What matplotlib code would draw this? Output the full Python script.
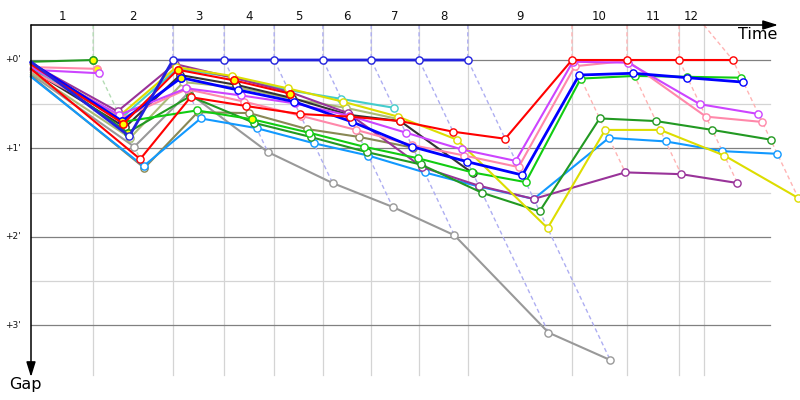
import matplotlib
matplotlib.use("Agg")
import matplotlib.pyplot as plt

# ---------------- data (times and gaps in minutes) ----------------
lap_numbers = [1, 2, 3, 4, 5, 6, 7, 8, 9, 10, 11, 12]
leader_times = [1.48, 3.38, 4.60, 5.79, 6.95, 8.10, 9.24, 10.40, 12.88, 14.19, 15.43, 16.71]
time_limit = 16.02
lap_grid = leader_times[:11] + [time_limit]
leader_dash_colors = ["#b4dcb4"] + ["#aeaef2"] * 7 + ["#ffb4b4"] * 4

gap_ticks = [0, 1, 2, 3]
gap_tick_labels = ["+0'", "+1'", "+2'", "+3'"]
gap_minor = [0.5, 1.5, 2.5]

# gaps per lap, index 0 = start
gap_green_ret = [0.02, 0.00]
gap_pink_ret = [0.08, 0.10]
gap_magenta_ret = [0.11, 0.15]
gap_grey = [0.16, 0.98, 0.37, 1.04, 1.39, 1.66, 1.98, 3.08, 3.39]
gap_olive = [0.18, 1.22, 0.59, 0.60, 0.78, 0.87, 0.99]
gap_lightolive = [0.14, 0.88, 0.25, 0.31, 0.44, 0.54, 0.67]
gap_cyan = [0.09, 0.66, 0.10, 0.19, 0.34, 0.44, 0.54]
gap_black = [0.11, 0.76, 0.17, 0.28, 0.43, 0.62, 0.69, 1.28]
gap_purple = [0.04, 0.58, 0.045, 0.20, 0.36, 0.60, 1.21, 1.42, 1.57, 1.27, 1.29, 1.39]
gap_lightblue = [0.19, 1.20, 0.66, 0.77, 0.94, 1.08, 1.27, 1.43, 1.57, 0.88, 0.92, 1.03, 1.06]
gap_darkgreen = [0.03, 0.82, 0.41, 0.71, 0.87, 1.04, 1.18, 1.50, 1.71, 0.66, 0.69, 0.79, 0.90]
gap_lime = [0.05, 0.70, 0.57, 0.67, 0.82, 0.98, 1.11, 1.27, 1.38, 0.21, 0.18, 0.19, 0.20]
gap_yellow = [0.06, 0.63, 0.08, 0.18, 0.32, 0.47, 0.64, 0.90, 1.90, 0.79, 0.79, 1.08, 1.56]
gap_pink = [0.12, 0.66, 0.33, 0.47, 0.63, 0.79, 0.96, 1.08, 1.21, 0.07, 0.01, 0.64, 0.70]
gap_magenta = [0.08, 0.62, 0.32, 0.40, 0.49, 0.63, 0.82, 1.01, 1.14, 0.02, 0.03, 0.50, 0.61]
gap_bluebright = [0.03, 0.69, 0.20, 0.34, 0.47, 0.70, 0.98, 1.15, 1.30, 0.17, 0.15, 0.20, 0.25]
gap_redA = [0.05, 0.72, 0.11, 0.23, 0.38]
gap_redB = [0.10, 1.12, 0.42, 0.52, 0.61, 0.64, 0.69, 0.81, 0.89, 0.00, 0.00, 0.00, 0.00]
gap_bluetop = [0.02, 0.86, 0.00, 0.00, 0.00, 0.00, 0.00, 0.00, 0.00]

# (gaps, colour, line width, laps drawn with yellow marker fill)
series = [
    (gap_green_ret, "#229922", 1.5, [1]),
    (gap_pink_ret, "#ff88aa", 1.5, [1]),
    (gap_magenta_ret, "#cc44ff", 1.5, []),
    (gap_grey, "#999999", 1.5, []),
    (gap_olive, "#888855", 1.5, []),
    (gap_lightolive, "#aabb77", 1.5, []),
    (gap_cyan, "#44cccc", 1.5, []),
    (gap_black, "#333333", 1.5, []),
    (gap_lightblue, "#1199ff", 1.5, []),
    (gap_purple, "#993399", 1.5, []),
    (gap_darkgreen, "#229922", 1.5, [1, 2]),
    (gap_lime, "#11cc11", 1.5, [1, 3]),
    (gap_yellow, "#dddd00", 1.5, []),
    (gap_pink, "#ff88aa", 1.5, []),
    (gap_magenta, "#cc44ff", 1.5, []),
    (gap_bluebright, "#0000ff", 2.0, [1, 2]),
    (gap_redA, "#ff0000", 1.5, [1, 2, 3, 4]),
    (gap_redB, "#ff0000", 1.5, []),
    (gap_bluetop, "#2222dd", 2.0, []),
]

# ---------------- drawing ----------------
PX_X = 42.0   # pixels per minute (time)
PX_Y = 88.5   # pixels per minute (gap)

fig = plt.figure(figsize=(8, 4), dpi=100)
ax = fig.add_axes([0, 0, 1, 1])
ax.set_xlim(-31 / PX_X, 769 / PX_X)
ax.set_ylim(340 / PX_Y, -60 / PX_Y)
ax.axis("off")

top = -35 / PX_Y
grid_bottom = 315 / PX_Y
grid_right = 739 / PX_X

for g in gap_minor:
    ax.plot([0, grid_right], [g, g], color="#d4d4d4", lw=0.9, zorder=1)
for g in gap_ticks:
    ax.plot([0, grid_right], [g, g], color="#808080", lw=0.9, zorder=1.2)
for t in lap_grid:
    ax.plot([t, t], [top, grid_bottom], color="#d4d4d4", lw=0.9, zorder=1.1)

# lap labels
bounds = [0] + lap_grid
for i, n in enumerate(lap_numbers):
    ax.text((bounds[i] + bounds[i + 1]) / 2, -43 / PX_Y, str(n), ha="center",
            va="center", fontsize=8.5, color="#111111")

# gap labels
for g, lab in zip(gap_ticks, gap_tick_labels):
    ax.text(-10 / PX_X, g, lab, ha="right", va="center", fontsize=6.5, color="#111111")


def xpos(lap, gap):
    return 0.0 if lap == 0 else leader_times[lap - 1] + gap


# dashed leader lines
for k in range(12):
    lap = k + 1
    gaps_here = [s[0][lap] for s in series if len(s[0]) > lap]
    mg = max(gaps_here)
    lt = leader_times[k]
    ax.plot([lap_grid[k], lt, lt + mg], [top, 0, mg], color=leader_dash_colors[k],
            lw=1.0, ls=(0, (3, 2.2)), zorder=2)

# series
for i, (gaps, col, lw, yfill) in enumerate(series):
    xs = [xpos(l, g) for l, g in enumerate(gaps)]
    z = 3 + i * 0.01
    ax.plot(xs, gaps, color=col, lw=lw, zorder=z, solid_joinstyle="round")
    mx = [x for l, x in enumerate(xs) if l > 0]
    my = [g for l, g in enumerate(gaps) if l > 0]
    ax.plot(mx, my, ls="none", marker="o", ms=5.2, mfc="white", mec=col, mew=1.0, zorder=z + 0.005)
    if yfill:
        ax.plot([xs[l] for l in yfill], [gaps[l] for l in yfill], ls="none", marker="o",
                ms=5.2, mfc="#ffff00", mec=col, mew=1.0, zorder=z + 0.006)

# axes arrows
ax.annotate("", xy=(747 / PX_X, top), xytext=(0, top),
            arrowprops=dict(arrowstyle="-|>,head_length=0.9,head_width=0.28", color="black",
                            lw=1.1, mutation_scale=10, shrinkA=0, shrinkB=0), zorder=6)
ax.annotate("", xy=(0, 317 / PX_Y), xytext=(0, top),
            arrowprops=dict(arrowstyle="-|>,head_length=0.9,head_width=0.28", color="black",
                            lw=1.1, mutation_scale=10, shrinkA=0, shrinkB=0), zorder=6)

ax.text(746 / PX_X, -25 / PX_Y, "Time", ha="right", va="center", fontsize=11.5, color="black")
ax.text(-6 / PX_X, 325 / PX_Y, "Gap", ha="center", va="center", fontsize=11.5, color="black")

fig.savefig("out.png", dpi=100)
